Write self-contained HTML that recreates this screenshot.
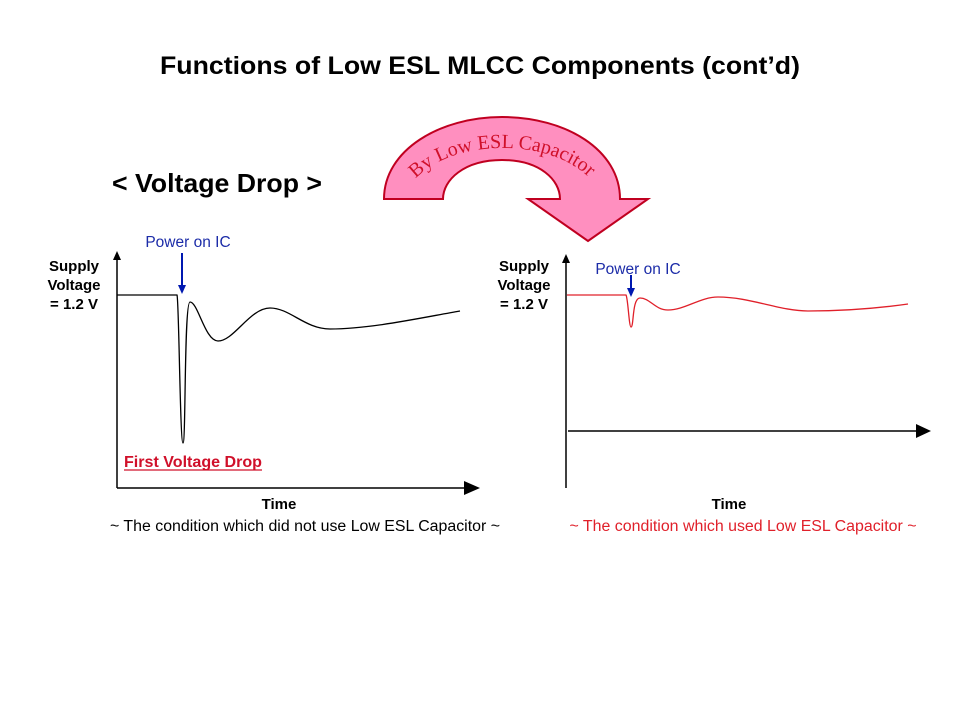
<!DOCTYPE html>
<html><head><style>
body{margin:0;width:960px;height:720px;background:#fff;overflow:hidden}
</style></head><body>
<svg width="960" height="720" xmlns="http://www.w3.org/2000/svg" font-family="Liberation Sans, Arial, sans-serif">
<text x="160" y="74" font-size="25" font-weight="bold" textLength="640" lengthAdjust="spacingAndGlyphs">Functions of Low ESL MLCC Components (cont’d)</text>
<text x="112" y="192" font-size="26" font-weight="bold" textLength="210" lengthAdjust="spacingAndGlyphs">&lt; Voltage Drop &gt;</text>

<!-- curved arrow -->
<path d="M384,199 C384,150 440,117 502,117 C566,117 620,150 620,199 L648,199 L588,241 L528,199 L560,199 C560,180 540,160 502,160 C464,160 443,180 443,199 Z" fill="#ff8fbf" stroke="#c00020" stroke-width="2"/>
<path id="tp" d="M405,192 C425,160 465,148 502,148 C545,148 580,162 600,190" fill="none"/>
<text font-family="Liberation Serif, serif" font-size="20" fill="#d0102a"><textPath href="#tp" startOffset="50%" text-anchor="middle">By Low ESL Capacitor</textPath></text>

<!-- left graph -->
<line x1="117" y1="488" x2="117" y2="258" stroke="#000" stroke-width="1.5"/>
<polygon points="117,251 113,260 121,260" fill="#000"/>
<line x1="117" y1="488" x2="466" y2="488" stroke="#000" stroke-width="1.5"/>
<polygon points="480,488 464,481 464,495" fill="#000"/>
<path d="M117,295 L177,295 C179,300 180,443 183,443 C186,443 184,302 190,302 C198,302 205,341 218,341 C234,341 250,308 270,308 C290,308 305,329 330,329 C370,329 420,318 460,311" fill="none" stroke="#000" stroke-width="1.3"/>
<line x1="182" y1="253" x2="182" y2="286" stroke="#0018b0" stroke-width="2"/>
<polygon points="182,294 178,285 186,285" fill="#0018b0"/>
<text x="188" y="247" text-anchor="middle" font-size="15.5" fill="#1c2ca8">Power on IC</text>
<text x="74" y="271" text-anchor="middle" font-size="15" font-weight="bold">Supply</text>
<text x="74" y="290" text-anchor="middle" font-size="15" font-weight="bold">Voltage</text>
<text x="74" y="309" text-anchor="middle" font-size="15" font-weight="bold">= 1.2 V</text>
<text x="124" y="467" font-size="15.5" font-weight="bold" fill="#d0102a" textLength="138" lengthAdjust="spacingAndGlyphs">First Voltage Drop</text>
<line x1="124" y1="470" x2="262" y2="470" stroke="#d0102a" stroke-width="1.3"/>
<text x="279" y="509" text-anchor="middle" font-size="15" font-weight="bold">Time</text>
<text x="305" y="531" text-anchor="middle" font-size="15.5" textLength="390" lengthAdjust="spacingAndGlyphs">~ The condition which did not use Low ESL Capacitor ~</text>

<!-- right graph -->
<line x1="566" y1="488" x2="566" y2="261" stroke="#000" stroke-width="1.5"/>
<polygon points="566,254 562,263 570,263" fill="#000"/>
<line x1="568" y1="431" x2="918" y2="431" stroke="#000" stroke-width="1.5"/>
<polygon points="931,431 916,424 916,438" fill="#000"/>
<path d="M567,295 L626,295 C628,298 629,327 631,327 C634,327 632,298 640,298 C650,298 655,310 668,310 C685,310 700,297 718,297 C750,297 780,311 808,311 C850,311 880,308 908,304" fill="none" stroke="#e0202a" stroke-width="1.3"/>
<line x1="631" y1="275" x2="631" y2="289" stroke="#0018b0" stroke-width="2"/>
<polygon points="631,297 627,288 635,288" fill="#0018b0"/>
<text x="638" y="274" text-anchor="middle" font-size="15.5" fill="#1c2ca8">Power on IC</text>
<text x="524" y="271" text-anchor="middle" font-size="15" font-weight="bold">Supply</text>
<text x="524" y="290" text-anchor="middle" font-size="15" font-weight="bold">Voltage</text>
<text x="524" y="309" text-anchor="middle" font-size="15" font-weight="bold">= 1.2 V</text>
<text x="729" y="509" text-anchor="middle" font-size="15" font-weight="bold">Time</text>
<text x="743" y="531" text-anchor="middle" font-size="15.5" fill="#e0202a" textLength="347" lengthAdjust="spacingAndGlyphs">~ The condition which used Low ESL Capacitor ~</text>
</svg>
</body></html>
